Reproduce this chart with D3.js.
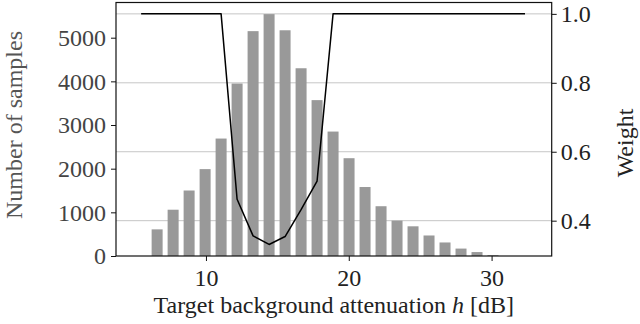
<!DOCTYPE html>
<html>
<head>
<meta charset="utf-8">
<script src="https://cdn.jsdelivr.net/npm/d3@7"></script>
<style>
  html, body { margin: 0; padding: 0; background: #fff; }
  svg { display: block; font-family: "Liberation Serif", "DejaVu Serif", serif; }
</style>
</head>
<body>
<div id="chart"></div>
<script>
// ── Data ────────────────────────────────────────────────────────────────────
// histogram bins (centre, dB) and sample counts
const binCenters = [6.58, 7.70, 8.82, 9.94, 11.06, 12.18, 13.30, 14.42, 15.54, 16.66, 17.78,
                    18.90, 20.02, 21.14, 22.26, 23.38, 24.50, 25.62, 26.74, 27.86, 28.98, 30.10];
const counts     = [610, 1060, 1500, 1990, 2690, 3950, 5150, 5540, 5170, 4300, 3570,
                    2850, 2240, 1580, 1140, 810, 680, 470, 310, 170, 90, 20];

// weight curve
const weightX = [5.46, 11.06, 12.18, 13.30, 14.42, 15.54, 16.66, 17.78, 18.90, 32.34];
const weightY = [1.0, 1.0, 0.462, 0.356, 0.331, 0.354, 0.432, 0.515, 1.0, 1.0];

const xTicks      = [10, 20, 30];
const countTicks  = [0, 1000, 2000, 3000, 4000, 5000];
const weightTicks = [0.4, 0.6, 0.8, 1.0];

// ── Layout ──────────────────────────────────────────────────────────────────
const W = 640, H = 324;
const plot = { left: 116, right: 551.7, top: 2.5, bottom: 256 };
const binWidth = 0.77;
const FS = '24px';

const x  = d3.scaleLinear().domain([3.70, 34.21]).range([plot.left, plot.right]);
const yL = d3.scaleLinear().domain([0, 5806]).range([plot.bottom, plot.top]);
const yR = d3.scaleLinear().domain([0.2975, 1.033]).range([plot.bottom, plot.top]);

const svg = d3.select('#chart').append('svg')
  .attr('width', W).attr('height', H);

// grid (from the weight axis), behind the bars
svg.append('g')
  .selectAll('line').data(weightTicks).join('line')
  .attr('x1', plot.left).attr('x2', plot.right)
  .attr('y1', d => yR(d)).attr('y2', d => yR(d))
  .attr('stroke', '#c6c6c6').attr('stroke-width', 1);

// bars
svg.append('g')
  .selectAll('rect').data(counts).join('rect')
  .attr('x', (d, i) => x(binCenters[i] - binWidth / 2))
  .attr('width', x(binWidth) - x(0))
  .attr('y', d => yL(d))
  .attr('height', d => yL(0) - yL(d))
  .attr('fill', '#999999');

// weight line
const line = d3.line()
  .x((d, i) => x(weightX[i]))
  .y(d => yR(d));
svg.append('path')
  .datum(weightY)
  .attr('d', line)
  .attr('fill', 'none')
  .attr('stroke', '#000')
  .attr('stroke-width', 1.5)
  .attr('stroke-linejoin', 'round');

// frame
svg.append('rect')
  .attr('x', plot.left).attr('y', plot.top)
  .attr('width', plot.right - plot.left).attr('height', plot.bottom - plot.top)
  .attr('fill', 'none').attr('stroke', '#111').attr('stroke-width', 1.2);

// ── Axes ────────────────────────────────────────────────────────────────────
function styleAxis(g, color) {
  g.select('.domain').remove();
  g.selectAll('.tick line').attr('stroke', '#111').attr('stroke-width', 1);
  g.selectAll('.tick text')
    .attr('fill', color)
    .style('font-size', FS)
    .style('font-family', '"Liberation Serif", "DejaVu Serif", serif');
}

svg.append('g')
  .attr('transform', `translate(0,${plot.bottom})`)
  .call(d3.axisBottom(x).tickValues(xTicks).tickSize(5).tickPadding(8).tickFormat(d3.format('d')))
  .call(g => styleAxis(g, '#222'));

svg.append('g')
  .attr('transform', `translate(${plot.left},0)`)
  .call(d3.axisLeft(yL).tickValues(countTicks).tickSize(5).tickPadding(5).tickFormat(d3.format('d')))
  .call(g => styleAxis(g, '#444'));

svg.append('g')
  .attr('transform', `translate(${plot.right},0)`)
  .call(d3.axisRight(yR).tickValues(weightTicks).tickSize(5).tickPadding(4).tickFormat(d3.format('.1f')))
  .call(g => styleAxis(g, '#222'));

// ── Labels ──────────────────────────────────────────────────────────────────
const xLabel = svg.append('text')
  .attr('x', (plot.left + plot.right) / 2).attr('y', 313)
  .attr('text-anchor', 'middle')
  .attr('fill', '#222')
  .style('font-size', FS);
xLabel.append('tspan').text('Target background attenuation ');
xLabel.append('tspan').style('font-style', 'italic').text('h');
xLabel.append('tspan').text(' [dB]');

svg.append('text')
  .attr('transform', `translate(22,125) rotate(-90)`)
  .attr('text-anchor', 'middle')
  .attr('fill', '#555')
  .style('font-size', FS)
  .text('Number of samples');

svg.append('text')
  .attr('transform', `translate(633,143) rotate(-90)`)
  .attr('text-anchor', 'middle')
  .attr('fill', '#222')
  .style('font-size', FS)
  .text('Weight');
</script>
</body>
</html>
